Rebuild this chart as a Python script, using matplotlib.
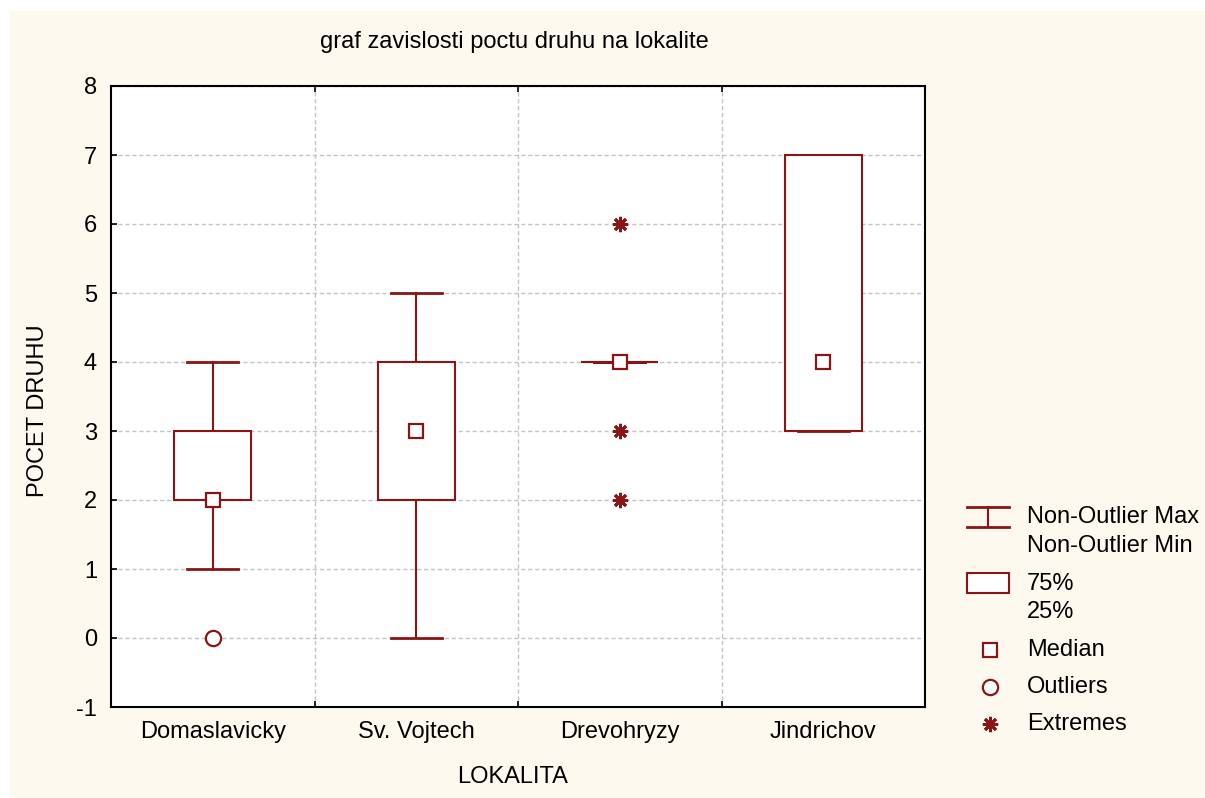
import matplotlib
matplotlib.use("Agg")
import matplotlib.pyplot as plt
from matplotlib.patches import Rectangle

plt.rcParams['font.family'] = ['Liberation Sans', 'DejaVu Sans']
plt.rcParams['axes.unicode_minus'] = False

# data
sites = ['Domaslavicky', 'Sv. Vojtech', 'Drevohryzy', 'Jindrichov']
medians = [2, 3, 4, 4]
q25 = [2, 2, 4, 3]
q75 = [3, 4, 4, 7]
wmin = [1, 0, 4, 3]
wmax = [4, 5, 4, 7]
outliers = [[0], [], [], []]
extremes = [[], [], [6, 3, 2], []]

red = '#8B1414'
cream = '#FDF9EE'
W, H = 1205, 798
fs = 17

fig = plt.figure(figsize=(W / 100, H / 100), dpi=100, facecolor='white')
fig.patches.append(Rectangle((10 / W, 0), 1 - 10 / W, 1 - 11 / H,
                             transform=fig.transFigure, facecolor=cream,
                             edgecolor='none', zorder=-10))

ax = fig.add_axes([111 / W, 1 - 707 / H, (925 - 111) / W, (707 - 86) / H])
ax.set_facecolor('white')

box_w = 0.38
cap_w = 0.25
for i, name in enumerate(sites):
    x = i + 1
    # whiskers
    ax.plot([x, x], [wmin[i], q25[i]], color=red, lw=1.5, zorder=3)
    ax.plot([x, x], [q75[i], wmax[i]], color=red, lw=1.5, zorder=3)
    ax.plot([x - cap_w / 2, x + cap_w / 2], [wmin[i], wmin[i]], color=red, lw=2, zorder=3)
    ax.plot([x - cap_w / 2, x + cap_w / 2], [wmax[i], wmax[i]], color=red, lw=2, zorder=3)
    # box
    ax.add_patch(Rectangle((x - box_w / 2, q25[i]), box_w, q75[i] - q25[i],
                           facecolor='white', edgecolor=red, lw=1.5, zorder=4))
    # median
    ax.plot(x, medians[i], marker='s', ms=10, mfc='white', mec=red, mew=1.6, zorder=5)
    for v in outliers[i]:
        ax.plot(x, v, marker='o', ms=11, mfc='white', mec=red, mew=1.6, zorder=5)
    for v in extremes[i]:
        ax.plot(x, v, marker=(8, 2, 0), ms=11, mec=red, mew=2, zorder=5)

ax.set_xlim(0.5, 4.5)
ax.set_ylim(-1, 8)
ax.set_yticks(range(-1, 9))
ax.set_xticks([1.5, 2.5, 3.5])
ax.set_xticklabels([])
ax.set_xticks([1, 2, 3, 4], minor=True)
ax.set_xticklabels(sites, minor=True, fontsize=fs)
ax.tick_params(axis='x', which='minor', length=0, pad=10)
ax.tick_params(axis='both', which='major', direction='in', length=4, width=1.2,
               top=True, labelsize=fs)
ax.tick_params(axis='y', pad=10)
ax.grid(True, which='major', color='#C4C4C4', linestyle=(0, (3, 2)), lw=1)
for s in ax.spines.values():
    s.set_linewidth(1.5)

fig.text(514 / W, 1 - 42 / H, 'graf zavislosti poctu druhu na lokalite',
         ha='center', va='center', fontsize=fs)
fig.text(513 / W, 1 - 777 / H, 'LOKALITA', ha='center', va='center', fontsize=fs)
fig.text(38 / W, 1 - 411 / H, 'POCET DRUHU', ha='center', va='center',
         rotation=90, fontsize=fs)

# legend drawn in figure pixel space
lg = fig.add_axes([0, 0, 1, 1])
lg.set_xlim(0, W)
lg.set_ylim(H, 0)
lg.axis('off')
lg.patch.set_alpha(0)
lg.plot([967, 1009], [507, 507], color=red, lw=2)
lg.plot([967, 1009], [527, 527], color=red, lw=2)
lg.plot([988, 988], [507, 527], color=red, lw=1.5)
lg.add_patch(Rectangle((967, 573), 42, 20, facecolor='white', edgecolor=red, lw=1.5))
lg.plot(990, 650, marker='s', ms=10, mfc='white', mec=red, mew=1.6)
lg.plot(990, 687, marker='o', ms=11, mfc='white', mec=red, mew=1.6)
lg.plot(990, 724, marker=(8, 2, 0), ms=11, mec=red, mew=2)
labels = [('Non-Outlier Max', 517), ('Non-Outlier Min', 546), ('75%', 584),
          ('25%', 612), ('Median', 650), ('Outliers', 687), ('Extremes', 724)]
for txt, y in labels:
    lg.text(1027, y, txt, ha='left', va='center', fontsize=fs)

fig.savefig('out.png', dpi=100, facecolor=fig.get_facecolor())
